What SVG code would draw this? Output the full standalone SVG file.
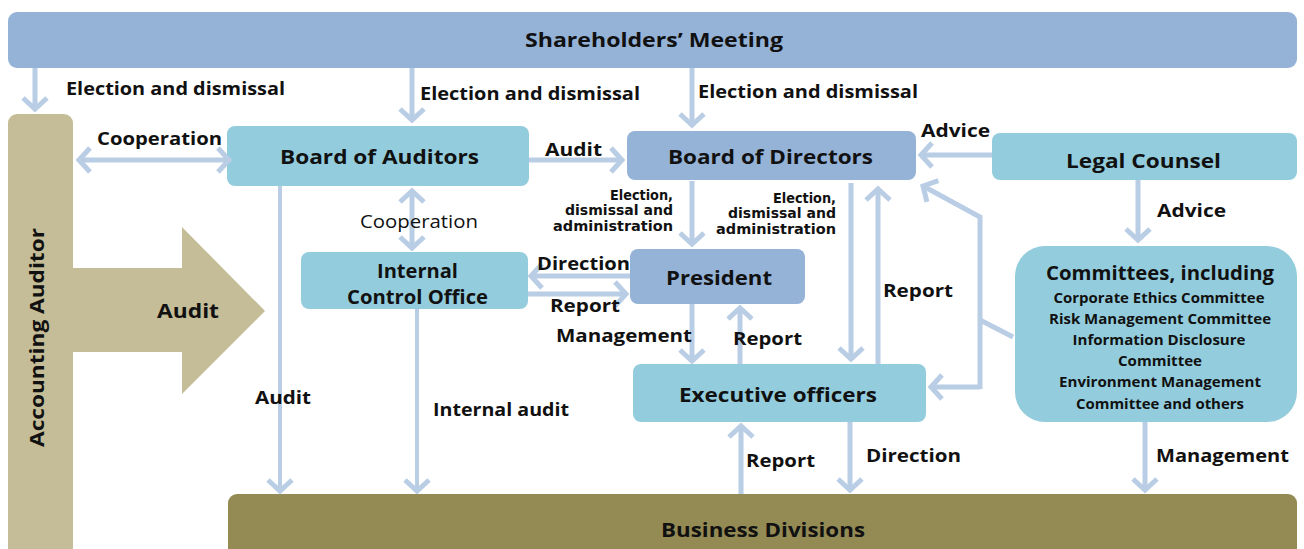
<svg xmlns="http://www.w3.org/2000/svg" width="1304" height="549" viewBox="0 0 1304 549">
  <style>
    .t { font-family: "Open Sans", "Liberation Sans", sans-serif; font-weight: bold; fill: #111; }
    .node { font-size: 19px; text-anchor: middle; }
    .lbl { font-size: 17.5px; }
    .sm { font-family: "DejaVu Sans", sans-serif; font-weight: bold; font-size: 13.5px; fill: #111; text-anchor: end; }
    .com { font-size: 14px; text-anchor: middle; }
    .blue { fill: #95b3d7; }
    .teal { fill: #93cddd; }
    .khaki { fill: #c4bd97; }
    .olive { fill: #948a54; }
    .ln { stroke: #b9cde5; stroke-width: 5; fill: none; }
    .thin { stroke-width: 4; }
  </style>
  <defs>
    <marker id="head" markerUnits="userSpaceOnUse" viewBox="-16 -16 20 32" refX="0" refY="0" markerWidth="20" markerHeight="32" orient="auto-start-reverse">
      <path d="M-11,-12 L0,0 L-11,12" fill="none" stroke="#b9cde5" stroke-width="5"/>
    </marker>
  </defs>

  <!-- boxes -->
  <g id="shareholders">
    <rect class="blue" x="8" y="12" width="1289" height="56" rx="9"/>
    <text class="t node" x="654" y="47" font-size="20" textLength="258" lengthAdjust="spacingAndGlyphs">Shareholders’ Meeting</text>
  </g>
  <g id="accounting-auditor">
    <rect class="khaki" x="8" y="114" width="65" height="450" rx="9"/>
    <path class="khaki" d="M73,268 H182 V227 L265,311 L182,394 V352 H73 Z"/>
    <text class="t" font-size="19" text-anchor="middle" transform="translate(44,337.5) rotate(-90)" textLength="219" lengthAdjust="spacingAndGlyphs">Accounting Auditor</text>
    <text class="t" font-size="20" x="188" y="318" text-anchor="middle" textLength="62" lengthAdjust="spacingAndGlyphs">Audit</text>
  </g>
  <g id="board-of-auditors">
    <rect class="teal" x="227" y="126" width="302" height="60" rx="8"/>
    <text class="t node" x="379.5" y="164" textLength="199" lengthAdjust="spacingAndGlyphs">Board of Auditors</text>
  </g>
  <g id="board-of-directors">
    <rect class="blue" x="627" y="131" width="289" height="49" rx="8"/>
    <text class="t node" x="770.5" y="164" textLength="205" lengthAdjust="spacingAndGlyphs">Board of Directors</text>
  </g>
  <g id="legal-counsel">
    <rect class="teal" x="992" y="133" width="305" height="47" rx="8"/>
    <text class="t node" x="1143.5" y="168" textLength="155" lengthAdjust="spacingAndGlyphs">Legal Counsel</text>
  </g>
  <g id="internal-control-office">
    <rect class="teal" x="301" y="252" width="227" height="57" rx="8"/>
    <text class="t node" x="417.5" y="278" font-size="17.5" textLength="81" lengthAdjust="spacingAndGlyphs">Internal</text>
    <text class="t node" x="417.5" y="304" font-size="17.5" textLength="141" lengthAdjust="spacingAndGlyphs">Control Office</text>
  </g>
  <g id="president">
    <rect class="blue" x="630" y="249" width="175" height="55" rx="8"/>
    <text class="t node" x="719" y="285" textLength="106" lengthAdjust="spacingAndGlyphs">President</text>
  </g>
  <g id="executive-officers">
    <rect class="teal" x="633" y="364" width="293" height="58" rx="8"/>
    <text class="t node" x="778" y="402" textLength="198" lengthAdjust="spacingAndGlyphs">Executive officers</text>
  </g>
  <g id="committees">
    <rect class="teal" x="1015" y="246" width="282" height="176" rx="30"/>
    <text class="t node" x="1160" y="280" font-size="17.5" textLength="228" lengthAdjust="spacingAndGlyphs">Committees, including</text>
    <text class="t com" x="1159" y="303" textLength="211" lengthAdjust="spacingAndGlyphs">Corporate  Ethics Committee</text>
    <text class="t com" x="1160" y="324" textLength="222" lengthAdjust="spacingAndGlyphs">Risk Management Committee</text>
    <text class="t com" x="1159" y="345" textLength="173" lengthAdjust="spacingAndGlyphs">Information  Disclosure</text>
    <text class="t com" x="1160" y="366" textLength="84" lengthAdjust="spacingAndGlyphs">Committee</text>
    <text class="t com" x="1160" y="387" textLength="202" lengthAdjust="spacingAndGlyphs">Environment Management</text>
    <text class="t com" x="1160" y="409" textLength="168" lengthAdjust="spacingAndGlyphs">Committee and others</text>
  </g>
  <g id="business-divisions">
    <rect class="olive" x="228" y="494" width="1069" height="70" rx="9"/>
    <text class="t node" x="763" y="537" textLength="204" lengthAdjust="spacingAndGlyphs">Business Divisions</text>
  </g>

  <!-- connectors -->
  <g id="connectors">
    <path class="ln" d="M35,68 V109" marker-end="url(#head)"/>
    <path class="ln" d="M412,68 V120" marker-end="url(#head)"/>
    <path class="ln" d="M692,68 V125" marker-end="url(#head)"/>
    <path class="ln" d="M79,160 H229" marker-start="url(#head)" marker-end="url(#head)"/>
    <path class="ln" d="M529,160 H622" marker-end="url(#head)"/>
    <path class="ln" d="M992,155 H921" marker-end="url(#head)"/>
    <path class="ln" d="M412,191 V248" marker-start="url(#head)" marker-end="url(#head)"/>
    <path class="ln thin" d="M280,186 V491" marker-end="url(#head)"/>
    <path class="ln thin" d="M417,309 V491" marker-end="url(#head)"/>
    <path class="ln" d="M692,181 V244" marker-end="url(#head)"/>
    <path class="ln" d="M851,183 V359" marker-end="url(#head)"/>
    <path class="ln" d="M878,364 V189" marker-end="url(#head)"/>
    <path class="ln" d="M1013,337 L980,320"/>
    <path class="ln" d="M980,389 V217 L923,186" marker-end="url(#head)"/>
    <path class="ln" d="M980,387 H931" marker-end="url(#head)"/>
    <path class="ln" d="M1138,180 V240" marker-end="url(#head)"/>
    <path class="ln" d="M630,276 H531" marker-end="url(#head)"/>
    <path class="ln" d="M528,294 H626" marker-end="url(#head)"/>
    <path class="ln" d="M692,304 V361" marker-end="url(#head)"/>
    <path class="ln" d="M740,364 V308" marker-end="url(#head)"/>
    <path class="ln" d="M741,494 V426" marker-end="url(#head)"/>
    <path class="ln" d="M850,422 V490" marker-end="url(#head)"/>
    <path class="ln" d="M1145,422 V490" marker-end="url(#head)"/>
  </g>

  <!-- connector labels -->
  <g id="labels">
    <text class="t lbl" x="66" y="95" textLength="219" lengthAdjust="spacingAndGlyphs">Election and dismissal</text>
    <text class="t lbl" x="420" y="100" textLength="220" lengthAdjust="spacingAndGlyphs">Election and dismissal</text>
    <text class="t lbl" x="698" y="98" textLength="220" lengthAdjust="spacingAndGlyphs">Election and dismissal</text>
    <text class="t lbl" x="97" y="145" textLength="125" lengthAdjust="spacingAndGlyphs">Cooperation</text>
    <text class="t lbl" x="545" y="156" textLength="57" lengthAdjust="spacingAndGlyphs">Audit</text>
    <text class="t lbl" x="921" y="137" textLength="69" lengthAdjust="spacingAndGlyphs">Advice</text>
    <text x="419" y="228" font-family="'Open Sans', 'Liberation Sans', sans-serif" font-size="17.5" fill="#111" text-anchor="middle" textLength="118" lengthAdjust="spacingAndGlyphs">Cooperation</text>
    <text class="t lbl" x="255" y="404" textLength="56" lengthAdjust="spacingAndGlyphs">Audit</text>
    <text class="t lbl" x="433" y="416" textLength="136" lengthAdjust="spacingAndGlyphs">Internal audit</text>
    <text class="sm" x="673" y="200" textLength="63" lengthAdjust="spacingAndGlyphs">Election,</text>
    <text class="sm" x="673" y="215" textLength="108" lengthAdjust="spacingAndGlyphs">dismissal and</text>
    <text class="sm" x="673" y="231" textLength="120" lengthAdjust="spacingAndGlyphs">administration</text>
    <text class="sm" x="836" y="203" textLength="63" lengthAdjust="spacingAndGlyphs">Election,</text>
    <text class="sm" x="836" y="218" textLength="108" lengthAdjust="spacingAndGlyphs">dismissal and</text>
    <text class="sm" x="836" y="234" textLength="120" lengthAdjust="spacingAndGlyphs">administration</text>
    <text class="t lbl" x="537" y="270" textLength="93" lengthAdjust="spacingAndGlyphs">Direction</text>
    <text class="t lbl" x="550" y="312" textLength="70" lengthAdjust="spacingAndGlyphs">Report</text>
    <text class="t lbl" x="556" y="342" textLength="136" lengthAdjust="spacingAndGlyphs">Management</text>
    <text class="t lbl" x="733" y="345" textLength="69" lengthAdjust="spacingAndGlyphs">Report</text>
    <text class="t lbl" x="883" y="297" textLength="70" lengthAdjust="spacingAndGlyphs">Report</text>
    <text class="t lbl" x="1157" y="217" textLength="69" lengthAdjust="spacingAndGlyphs">Advice</text>
    <text class="t lbl" x="746" y="467" textLength="69" lengthAdjust="spacingAndGlyphs">Report</text>
    <text class="t lbl" x="866" y="462" textLength="95" lengthAdjust="spacingAndGlyphs">Direction</text>
    <text class="t lbl" x="1156" y="462" textLength="133" lengthAdjust="spacingAndGlyphs">Management</text>
  </g>
</svg>
